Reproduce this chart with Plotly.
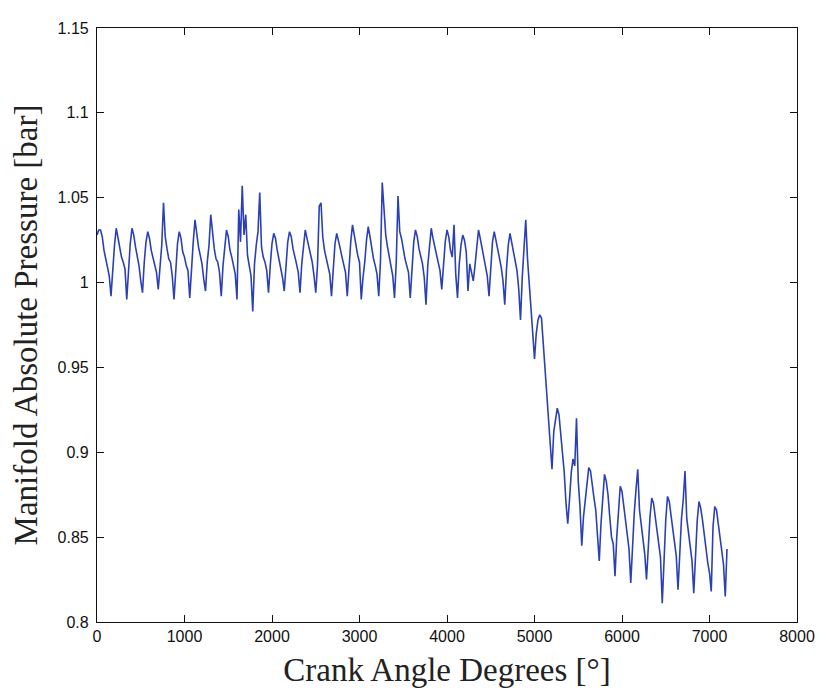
import plotly.graph_objects as go

# Crank angle sample grid (deg) and manifold absolute pressure readings (bar)
crank_angle_deg = list(range(0, 7201, 20))

pressure_bar = [
    1.028, 1.031,
    1.031, 1.027, 1.019, 1.014, 1.011, 1.004, 0.992, 1.009, 1.022,
    1.032, 1.026, 1.020, 1.015, 1.012, 1.008, 0.990, 1.011, 1.023,
    1.032, 1.028, 1.021, 1.016, 1.010, 1.001, 0.994, 1.012, 1.024,
    1.030, 1.026, 1.019, 1.015, 1.011, 1.006, 0.996, 1.010, 1.022,
    1.047, 1.027, 1.020, 1.014, 1.012, 1.004, 0.990, 1.011, 1.023,
    1.030, 1.026, 1.018, 1.015, 1.010, 1.007, 0.991, 1.010, 1.024,
    1.037, 1.027, 1.021, 1.016, 1.011, 1.002, 0.995, 1.012, 1.022,
    1.040, 1.028, 1.020, 1.014, 1.012, 1.006, 0.992, 1.010, 1.023,
    1.031, 1.027, 1.019, 1.015, 1.010, 1.005, 0.990, 1.043, 1.024,
    1.057, 1.028, 1.040, 1.016, 1.011, 1.004, 0.983, 1.011, 1.022,
    1.030, 1.053, 1.021, 1.015, 1.012, 1.007, 0.994, 1.010, 1.023,
    1.029, 1.026, 1.019, 1.014, 1.010, 1.003, 0.995, 1.012, 1.024,
    1.030, 1.027, 1.020, 1.016, 1.011, 1.006, 0.994, 1.011, 1.022,
    1.031, 1.026, 1.021, 1.015, 1.012, 1.004, 0.994, 1.010, 1.045,
    1.047, 1.027, 1.019, 1.014, 1.010, 1.005, 0.992, 1.011, 1.023,
    1.029, 1.025, 1.020, 1.015, 1.011, 1.006, 0.992, 1.010, 1.024,
    1.034, 1.028, 1.021, 1.016, 1.012, 0.990, 1.003, 1.012, 1.025,
    1.033, 1.027, 1.020, 1.014, 1.010, 1.005, 0.992, 1.013, 1.059,
    1.042, 1.028, 1.021, 1.015, 1.011, 1.004, 0.991, 1.012, 1.051,
    1.030, 1.026, 1.019, 1.014, 1.010, 1.006, 0.991, 1.011, 1.024,
    1.031, 1.027, 1.020, 1.015, 1.011, 1.003, 0.987, 1.010, 1.023,
    1.032, 1.026, 1.021, 1.016, 1.012, 1.007, 0.996, 1.012, 1.024,
    1.031, 1.027, 1.019, 1.015, 1.034, 1.005, 0.991, 1.011, 1.022,
    1.028, 1.025, 1.018, 0.995, 1.011, 1.006, 1.001, 1.010, 1.023,
    1.031, 1.026, 1.020, 1.014, 1.010, 1.004, 0.992, 1.011, 1.024,
    1.030, 1.025, 1.019, 1.013, 1.009, 1.001, 0.987, 1.008, 1.022,
    1.029, 1.024, 1.017, 1.012, 1.007, 0.996, 0.978, 1.003, 1.022,
    1.037, 1.014, 1.001, 0.986, 0.970, 0.955, 0.970, 0.978, 0.981,
    0.979, 0.964, 0.950, 0.933, 0.918, 0.906, 0.890, 0.912, 0.918,
    0.926, 0.922, 0.910, 0.900, 0.888, 0.870, 0.858, 0.872, 0.888,
    0.896, 0.892, 0.920, 0.883, 0.868, 0.845, 0.862, 0.872, 0.882,
    0.891, 0.889, 0.880, 0.873, 0.866, 0.852, 0.836, 0.858, 0.875,
    0.887, 0.883, 0.875, 0.862, 0.850, 0.846, 0.827, 0.850, 0.868,
    0.880, 0.877, 0.868, 0.858, 0.850, 0.843, 0.823, 0.846, 0.864,
    0.878, 0.890, 0.866, 0.856, 0.848, 0.840, 0.825, 0.845, 0.862,
    0.873, 0.870, 0.862, 0.853, 0.846, 0.838, 0.811, 0.840, 0.860,
    0.874, 0.871, 0.863, 0.854, 0.847, 0.839, 0.819, 0.842, 0.861,
    0.872, 0.889, 0.861, 0.852, 0.845, 0.836, 0.817, 0.840, 0.860,
    0.871, 0.867, 0.860, 0.851, 0.843, 0.835, 0.829, 0.818, 0.856,
    0.868, 0.866, 0.858, 0.849, 0.842, 0.834, 0.815, 0.843,
]
assert len(pressure_bar) == len(crank_angle_deg), (len(pressure_bar), len(crank_angle_deg))

x_tick_vals = [0, 1000, 2000, 3000, 4000, 5000, 6000, 7000, 8000]
x_tick_text = ["0", "1000", "2000", "3000", "4000", "5000", "6000", "7000", "8000"]
y_tick_vals = [0.8, 0.85, 0.9, 0.95, 1.0, 1.05, 1.1, 1.15]
y_tick_text = ["0.8", "0.85", "0.9", "0.95", "1", "1.05", "1.1", "1.15"]

x_title = "Crank Angle Degrees [°]"
y_title = "Manifold Absolute Pressure [bar]"

fig = go.Figure()
fig.add_trace(go.Scatter(
    x=crank_angle_deg, y=pressure_bar, mode="lines",
    line=dict(color="#2c40b6", width=1.6), showlegend=False,
))

axis_common = dict(
    showgrid=False, zeroline=False, showline=True, linecolor="#111", linewidth=1.2,
    mirror="ticks", ticks="inside", ticklen=7, tickcolor="#111",
    tickfont=dict(family="Liberation Sans, Arial, sans-serif", size=16, color="#111"),
)

title_font = dict(family="Liberation Serif, Times New Roman, serif", size=33, color="#222")

fig.update_layout(
    width=823, height=698,
    paper_bgcolor="white", plot_bgcolor="white",
    margin=dict(l=89, r=34, t=15, b=84),
    xaxis=dict(range=[0, 8000], tickvals=x_tick_vals, ticktext=x_tick_text,
               title=dict(text=x_title, standoff=13, font=title_font),
               **axis_common),
    yaxis=dict(range=[0.8, 1.15], tickvals=y_tick_vals, ticktext=y_tick_text,
               ticklabelstandoff=4,
               title=dict(text=y_title, standoff=10, font=title_font),
               **axis_common),
)

fig.write_html("out.html")
